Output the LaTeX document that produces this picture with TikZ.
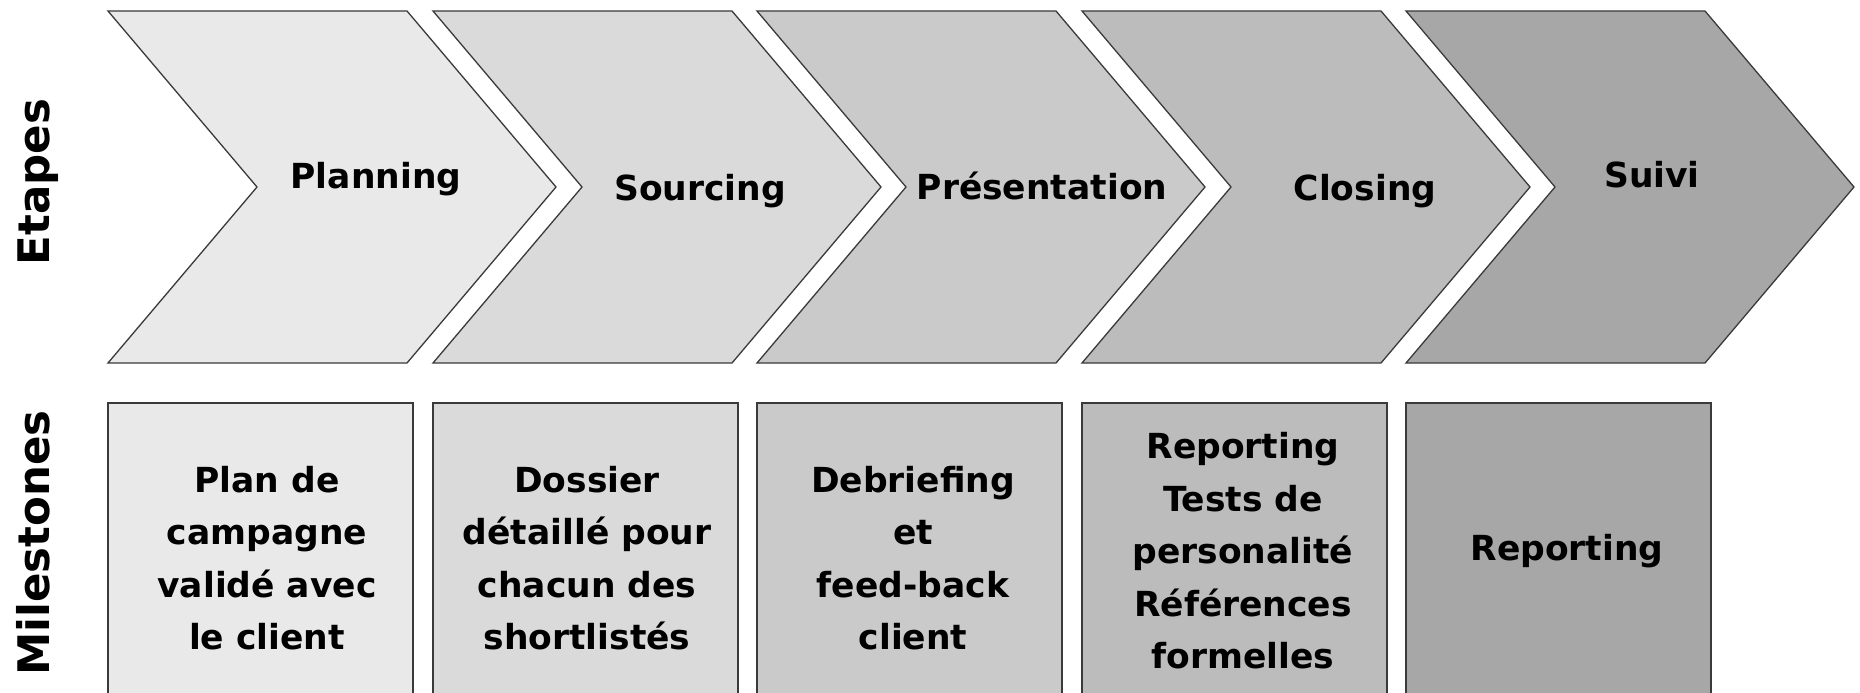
\documentclass[tikz,border=0pt]{standalone}
\usepackage{fontspec}
\setmainfont{DejaVu Sans}
\definecolor{edgecol}{HTML}{3A3A3A}
\definecolor{cA}{HTML}{E9E9E9}
\definecolor{cB}{HTML}{DADADA}
\definecolor{cC}{HTML}{CACACA}
\definecolor{cD}{HTML}{BCBCBC}
\definecolor{cE}{HTML}{A7A7A7}
\begin{document}
\begin{tikzpicture}[x=1pt,y=-1pt,
  chev/.style={draw=edgecol,line width=1.3pt,line join=miter},
  mbox/.style={draw=edgecol,line width=1.3pt},
  lbl/.style={font=\bfseries\fontsize{34.5}{52.5}\selectfont,inner sep=0pt,align=center},
  side/.style={font=\bfseries\fontsize{43.5}{50}\selectfont,inner sep=0pt,rotate=90,anchor=base}]
\clip (0,0) rectangle (1860,693);
\fill[white] (0,0) rectangle (1860,693);
% chevrons
\foreach \L/\col in {108/cA,433/cB,757/cC,1082/cD,1406/cE}{
  \filldraw[chev,fill=\col] (\L,11) -- ({\L+299},11) -- ({\L+448},187) -- ({\L+299},363)
    -- (\L,363) -- ({\L+149},187) -- cycle;
}
% milestone boxes
\foreach \L/\col in {108/cA,433/cB,757/cC,1082/cD,1406/cE}{
  \filldraw[mbox,fill=\col] (\L,403) rectangle ({\L+305},720);
}
% side labels
\node[side] (etapes) at (49,182) {Etapes};
\node[side] (milestones) at (49,543) {Milestones};
% step labels
\node[lbl,anchor=base] (planning) at (376,188) {Planning};
\node[lbl,anchor=base] (sourcing) at (700,200) {Sourcing};
\node[lbl,anchor=base] (presentation) at (1042,199) {Présentation};
\node[lbl,anchor=base] (closing) at (1365,200) {Closing};
\node[lbl,anchor=base] (suivi) at (1652,187) {Suivi};
% milestone texts
\node[lbl] (m1) at (267,558) {Plan de\\campagne\\validé avec\\le client};
\node[lbl] (m2) at (587,558) {Dossier\\détaillé pour\\chacun des\\shortlistés};
\node[lbl] (m3) at (913,558) {Debriefing\\et\\feed-back\\client};
\node[lbl] (m4) at (1243,551) {Reporting\\Tests de\\personalité\\Références\\formelles};
\node[lbl] (m5) at (1567,551) {Reporting};
\end{tikzpicture}
\end{document}
